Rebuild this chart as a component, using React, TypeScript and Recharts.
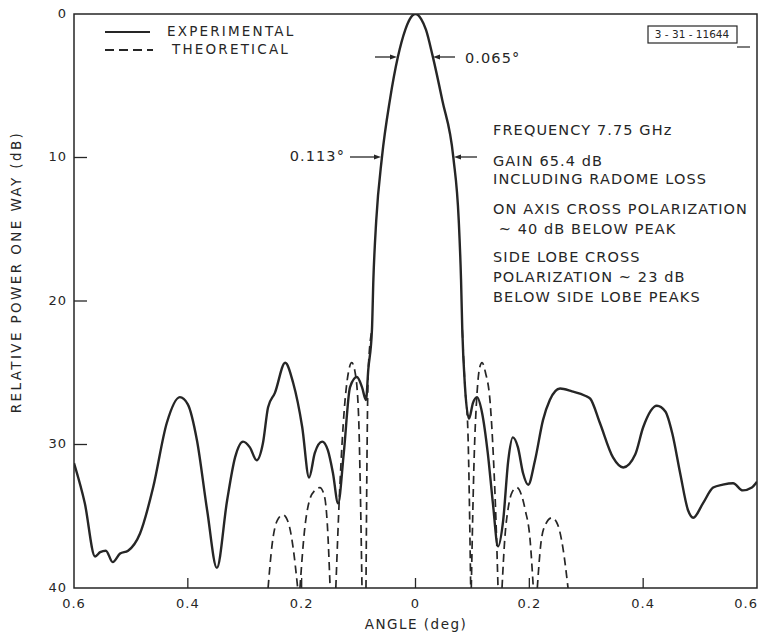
import { LineChart, Line, XAxis, YAxis, ReferenceArea } from "recharts";

const expAngle = [
  -0.6, -0.581, -0.563, -0.554, -0.544, -0.532, -0.519, -0.505, -0.484, -0.461,
  -0.437, -0.414, -0.4, -0.384, -0.366, -0.349, -0.331, -0.317, -0.303, -0.291,
  -0.279, -0.268, -0.259, -0.247, -0.229, -0.215, -0.199, -0.187, -0.177, -0.164,
  -0.154, -0.145, -0.136, -0.126, -0.115, -0.103, -0.094, -0.087, -0.083, -0.0765,
  -0.074, -0.069, -0.059, -0.045, -0.031, -0.018, -0.01, 0, 0.01, 0.0185,
  0.03, 0.047, 0.0665, 0.076, 0.08, 0.0822, 0.087, 0.094, 0.101, 0.108,
  0.117, 0.127, 0.136, 0.145, 0.154, 0.163, 0.171, 0.18, 0.189, 0.198,
  0.21, 0.224, 0.236, 0.254, 0.275, 0.298, 0.307, 0.324, 0.347, 0.365,
  0.386, 0.4, 0.424, 0.439, 0.451, 0.465, 0.479, 0.488, 0.505, 0.523,
  0.54, 0.558, 0.575, 0.591, 0.6,
];
const expDb = [
  31.3, 34.1, 37.8, 37.5, 37.4, 38.2, 37.6, 37.4, 36.2, 33.0,
  28.5, 26.7, 27.2, 29.7, 34.6, 38.6, 33.9, 30.9, 29.8, 30.2,
  31.1, 29.9, 27.4, 26.4, 24.3, 25.7, 28.8, 32.3, 30.6, 29.8,
  30.4, 32.0, 34.1, 30.6, 26.0, 25.3, 26.0, 26.9, 24.8, 22.0,
  18.5, 14.4, 10.0, 6.0, 3.0, 1.1, 0.35, 0, 0.35, 1.1,
  2.9, 6.0, 10.0, 14.4, 18.5, 22.0, 26.0, 28.2, 27.1, 26.7,
  27.8, 30.6, 34.1, 37.1, 35.3, 31.1, 29.5, 30.2, 32.0, 32.8,
  31.1, 28.3, 26.9, 26.1, 26.3, 26.6, 26.8, 28.5, 30.9, 31.6,
  30.7, 28.8, 27.3, 27.7, 29.2, 32.0, 34.6, 35.1, 34.1, 33.0,
  32.8, 32.7, 33.2, 33.0, 32.6,
];

// theoretical pattern, null = break between lobes (they dive below 40 dB)
const theoAngle = [
  -0.259, -0.252, -0.243, -0.233, -0.223, -0.215, -0.207, -0.205,
  -0.203, -0.195, -0.187, -0.177, -0.168, -0.16, -0.155, -0.15, -0.145,
  -0.14, -0.133, -0.125, -0.118, -0.112, -0.106, -0.1, -0.097, -0.094, -0.0905,
  -0.087, -0.085, -0.083, -0.0765, 0,
  0.0822, 0.087, 0.092, 0.097, 0.0975,
  0.098, 0.103, 0.108, 0.113, 0.117, 0.123, 0.131, 0.137, 0.142, 0.145, 0.148,
  0.152, 0.157, 0.163, 0.17, 0.178, 0.186, 0.193, 0.201, 0.207, 0.2105,
  0.214, 0.22, 0.228, 0.24, 0.25, 0.259, 0.268,
];
const theoDb = [
  40, 37, 35.3, 34.9, 35.5, 37.2, 40, null,
  40, 36, 34, 33.2, 33.0, 33.6, 35.5, 40, null,
  40, 33, 27.5, 25, 24.3, 25, 28, 33, 40, null,
  40, 30, 24.8, 22.0, null,
  22.0, 26.0, 29, 40, null,
  40, 31, 26.5, 24.6, 24.3, 25, 27, 31, 36, 40, null,
  40, 36.5, 34.4, 33.3, 33.0, 33.5, 34.6, 36.5, 40, null,
  40, 37, 35.6, 35.1, 35.6, 37.2, 40,
];

const angleTicks = [-0.6, -0.4, -0.2, 0, 0.2, 0.4, 0.6];
const dbTicks = [0, 10, 20, 30, 40];

const notes = [
  "FREQUENCY 7.75 GHz",
  "GAIN 65.4 dB",
  "INCLUDING RADOME LOSS",
  "ON AXIS CROSS POLARIZATION",
  " ~ 40 dB BELOW PEAK",
  "SIDE LOBE CROSS",
  "POLARIZATION ~ 23 dB",
  "BELOW SIDE LOBE PEAKS",
];
const noteY = [131, 162, 180, 210, 230, 258, 278, 298];

const experimental = expAngle.map((a, i) => ({ angle: a, db: expDb[i] }));
const theoretical = theoAngle.map((a, i) => ({ angle: a, db: theoDb[i] }));

const INK = "#262626";
const FONT = "'DejaVu Sans', sans-serif";

const fmtAngle = (v: number) => (v === 0 ? "0" : Math.abs(v).toFixed(1));

const XTick = ({ x, y, payload }: any) => {
  const last = payload.value > 0.59;
  return (
    <g>
      {Math.abs(payload.value) < 0.59 && (
        <line x1={x} x2={x} y1={y} y2={y - 10} stroke={INK} strokeWidth={1.3} />
      )}
      <text
        x={last ? x + 1 : x}
        y={y + 16}
        textAnchor={last ? "end" : "middle"}
        dominantBaseline="middle"
        fontSize={13}
        letterSpacing={1}
        fill={INK}
        fontFamily={FONT}
      >
        {fmtAngle(payload.value)}
      </text>
    </g>
  );
};

const YTick = ({ x, y, payload }: any) => (
  <g>
    {payload.value > 0 && payload.value < 40 && (
      <line x1={x} x2={x + 13} y1={y} y2={y} stroke={INK} strokeWidth={1.3} />
    )}
    <text
      x={x - 7}
      y={y}
      textAnchor="end"
      dominantBaseline="middle"
      fontSize={13}
      letterSpacing={1}
      fill={INK}
      fontFamily={FONT}
    >
      {payload.value}
    </text>
  </g>
);

const Arrow = ({ from, to, y }: { from: number; to: number; y: number }) => {
  const d = to > from ? 1 : -1;
  return (
    <g>
      <line x1={from} x2={to - d * 5} y1={y} y2={y} stroke={INK} strokeWidth={1.3} />
      <polygon
        points={`${to},${y} ${to - d * 7},${y - 2.5} ${to - d * 7},${y + 2.5}`}
        fill={INK}
      />
    </g>
  );
};

const txt = {
  fill: INK,
  fontFamily: FONT,
  fontSize: 14.5,
  letterSpacing: 1.1,
  dominantBaseline: "middle" as const,
};

export default function App() {
  return (
    <div
      style={{
        position: "absolute",
        left: 0,
        top: 0,
        width: 759,
        height: 633,
        background: "#fff",
      }}
    >
      <LineChart
        width={759}
        height={633}
        margin={{ top: 14, right: 2, bottom: 0, left: 14 }}
      >
        <XAxis
          type="number"
          dataKey="angle"
          domain={[-0.6, 0.6]}
          ticks={angleTicks}
          interval={0}
          allowDataOverflow
          axisLine={false}
          tickLine={false}
          tickSize={0}
          tickMargin={0}
          height={45}
          tick={<XTick />}
        />
        <YAxis
          type="number"
          dataKey="db"
          domain={[0, 40]}
          reversed
          ticks={dbTicks}
          interval={0}
          allowDataOverflow
          axisLine={false}
          tickLine={false}
          tickSize={0}
          tickMargin={0}
          width={60}
          tick={<YTick />}
        />
        <ReferenceArea
          x1={-0.6}
          x2={0.6}
          y1={0}
          y2={40}
          fill="#fff"
          fillOpacity={0}
          stroke={INK}
          strokeWidth={1.5}
        />
        <Line
          data={theoretical}
          dataKey="db"
          type="monotone"
          stroke={INK}
          strokeWidth={1.7}
          strokeDasharray="8 5"
          dot={false}
          activeDot={false}
          isAnimationActive={false}
        />
        <Line
          data={experimental}
          dataKey="db"
          type="monotone"
          stroke={INK}
          strokeWidth={2.4}
          dot={false}
          activeDot={false}
          isAnimationActive={false}
        />
      </LineChart>
      <svg
        width={759}
        height={633}
        style={{ position: "absolute", left: 0, top: 0, pointerEvents: "none" }}
      >
        {/* legend */}
        <line x1={105} x2={150} y1={32} y2={32} stroke={INK} strokeWidth={1.8} />
        <text x={167} y={32} {...txt} fontSize={13.5} letterSpacing={2.2}>
          EXPERIMENTAL
        </text>
        <line
          x1={105}
          x2={153}
          y1={50}
          y2={50}
          stroke={INK}
          strokeWidth={1.8}
          strokeDasharray="9 5"
        />
        <text x={172} y={50} {...txt} fontSize={13.5} letterSpacing={2.2}>
          THEORETICAL
        </text>

        {/* drawing number stamp */}
        <rect x={648} y={26} width={89} height={17} fill="none" stroke={INK} strokeWidth={1.2} />
        <line x1={737} x2={750} y1={47} y2={47} stroke={INK} strokeWidth={1.2} />
        <text x={692} y={35} {...txt} fontSize={10.5} letterSpacing={0} textAnchor="middle">
          3 - 31 - 11644
        </text>

        {/* beamwidth markers */}
        <Arrow from={375} to={397} y={57} />
        <Arrow from={455} to={433} y={57} />
        <text x={465} y={59} {...txt}>
          0.065°
        </text>
        <Arrow from={350} to={381} y={157} />
        <Arrow from={477} to={454} y={157} />
        <text x={345} y={157} {...txt} textAnchor="end">
          0.113°
        </text>

        {notes.map((n, i) => (
          <text key={n} x={493} y={noteY[i]} {...txt} style={{ whiteSpace: "pre" }}>
            {n}
          </text>
        ))}

        {/* axis titles */}
        <text x={416} y={625} {...txt} fontSize={13.5} letterSpacing={1.5} textAnchor="middle">
          ANGLE (deg)
        </text>
        <text
          x={17}
          y={272}
          {...txt}
          fontSize={13.5}
          letterSpacing={2.4}
          textAnchor="middle"
          transform="rotate(-90 17 272)"
        >
          RELATIVE POWER ONE WAY (dB)
        </text>
      </svg>
    </div>
  );
}
